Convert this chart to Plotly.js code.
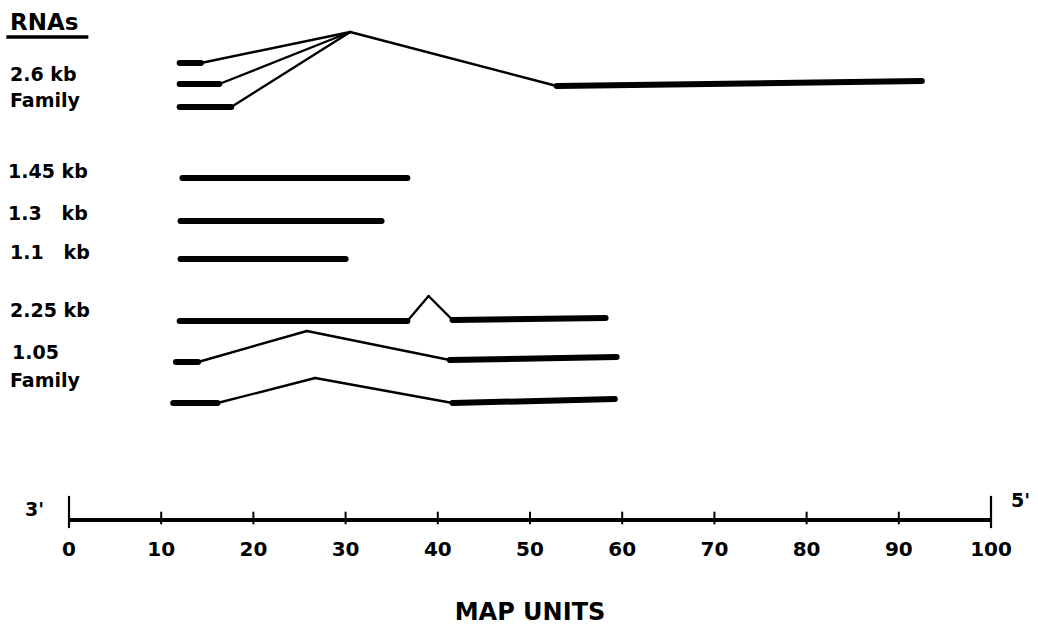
<!DOCTYPE html>
<html>
<head>
<meta charset="utf-8">
<script src="https://cdn.plot.ly/plotly-3.0.1.min.js"></script>
<style>
  html, body { margin: 0; padding: 0; background: #fff; }
  #chart { width: 1038px; height: 630px; }
  .js-line { stroke-linecap: round; stroke-linejoin: round; }
</style>
</head>
<body>
<div id="chart"></div>
<script>
// ---- Data (x in map units, y = row position from top) ----
// 2.6 kb family (three transcripts sharing the 5' exon)
const t26a_x = [12.0, 14.3, 30.5, 52.9, 92.5];
const t26a_y = [63, 63, 32, 86, 81];
const t26a_seg = ['exon', 'intron', 'intron', 'exon'];

const t26b_x = [12.0, 16.3, 30.5];
const t26b_y = [84, 84, 32];
const t26b_seg = ['exon', 'intron'];

const t26c_x = [12.0, 17.6, 30.5];
const t26c_y = [107, 107, 32];
const t26c_seg = ['exon', 'intron'];

// unspliced RNAs
const t145_x = [12.3, 36.7];
const t145_y = [178, 178];
const t145_seg = ['exon'];

const t13_x = [12.1, 33.9];
const t13_y = [221, 221];
const t13_seg = ['exon'];

const t11_x = [12.1, 30.0];
const t11_y = [259, 259];
const t11_seg = ['exon'];

// 2.25 kb
const t225_x = [12.0, 36.7, 39.0, 41.6, 58.2];
const t225_y = [321, 321, 296, 320, 318];
const t225_seg = ['exon', 'intron', 'intron', 'exon'];

// 1.05 family
const t105a_x = [11.6, 14.0, 25.8, 41.3, 59.4];
const t105a_y = [362, 362, 331, 360, 357];
const t105a_seg = ['exon', 'intron', 'intron', 'exon'];

const t105b_x = [11.3, 16.1, 26.7, 41.6, 59.2];
const t105b_y = [403, 403, 378, 403, 399];
const t105b_seg = ['exon', 'intron', 'intron', 'exon'];

// left-hand labels (x in map units, y = row position)
const labelText = ['2.6 kb', 'Family', '1.45 kb', '1.3\u00a0\u00a0\u00a0kb', '1.1\u00a0\u00a0\u00a0kb', '2.25 kb', '1.05', 'Family'];
const labelX = [-6.6, -6.6, -6.8, -6.8, -6.6, -6.6, -6.4, -6.6];
const labelY = [74, 100, 171, 213, 252, 310, 352, 380];

// map-unit scale
const tickVals = [0, 10, 20, 30, 40, 50, 60, 70, 80, 90, 100];
const tickText = ['0', '10', '20', '30', '40', '50', '60', '70', '80', '90', '100'];
const minorTickVals = [10, 20, 30, 40, 50, 60, 70, 80, 90];
const endTickVals = [0, 100];

// ---- Build traces ----
const AXIS_ROW = 518;
const X_MAX = 100;
const FONT = 'DejaVu Sans';
// helpers to place text outside the plotting area (paper coordinates)
const px = u => u / X_MAX;
const py = r => (AXIS_ROW - r) / AXIS_ROW;

const transcripts = [
  [t26a_x, t26a_y, t26a_seg], [t26b_x, t26b_y, t26b_seg], [t26c_x, t26c_y, t26c_seg],
  [t145_x, t145_y, t145_seg], [t13_x, t13_y, t13_seg], [t11_x, t11_y, t11_seg],
  [t225_x, t225_y, t225_seg], [t105a_x, t105a_y, t105a_seg], [t105b_x, t105b_y, t105b_seg]
];

const exonX = [], exonY = [], intronX = [], intronY = [];
transcripts.forEach(([xs, ys, segs]) => {
  segs.forEach((kind, i) => {
    const tx = kind === 'exon' ? exonX : intronX;
    const ty = kind === 'exon' ? exonY : intronY;
    tx.push(xs[i], xs[i + 1], null);
    ty.push(ys[i], ys[i + 1], null);
  });
});

const traces = [
  { type: 'scatter', mode: 'lines', x: intronX, y: intronY, connectgaps: false,
    line: { color: '#000', width: 2.4 }, hoverinfo: 'skip', cliponaxis: false },
  { type: 'scatter', mode: 'lines', x: exonX, y: exonY, connectgaps: false,
    line: { color: '#000', width: 6 }, hoverinfo: 'skip', cliponaxis: false },
  { type: 'scatter', mode: 'markers', x: minorTickVals, y: minorTickVals.map(() => AXIS_ROW),
    marker: { symbol: 'line-ns', size: 9, line: { color: '#000', width: 2 } },
    hoverinfo: 'skip', cliponaxis: false },
  { type: 'scatter', mode: 'markers', x: endTickVals, y: endTickVals.map(() => AXIS_ROW - 6),
    marker: { symbol: 'line-ns', size: 23, line: { color: '#000', width: 2.2 } },
    hoverinfo: 'skip', cliponaxis: false }
];

const annotations = labelText.map((t, i) => ({
  x: px(labelX[i]), y: py(labelY[i]), xref: 'paper', yref: 'paper', text: t, showarrow: false,
  xanchor: 'left', yanchor: 'middle',
  font: { family: FONT, size: 19, color: '#000', weight: 'bold' }
}));
annotations.push({
  x: px(-6.6), y: py(22), xref: 'paper', yref: 'paper', text: 'RNAs', showarrow: false,
  xanchor: 'left', yanchor: 'middle',
  font: { family: FONT, size: 23, color: '#000', weight: 'bold' }
});
annotations.push({
  x: px(-3.7), y: py(509), xref: 'paper', yref: 'paper', text: "3'", showarrow: false,
  xanchor: 'center', yanchor: 'middle',
  font: { family: FONT, size: 19, color: '#000', weight: 'bold' }
});
annotations.push({
  x: px(103.2), y: py(500), xref: 'paper', yref: 'paper', text: "5'", showarrow: false,
  xanchor: 'center', yanchor: 'middle',
  font: { family: FONT, size: 19, color: '#000', weight: 'bold' }
});

const layout = {
  width: 1038, height: 630,
  margin: { l: 69, r: 47, t: 0, b: 112, pad: 0 },
  paper_bgcolor: '#fff', plot_bgcolor: '#fff',
  showlegend: false, hovermode: false,
  xaxis: {
    range: [0, X_MAX], autorange: false, fixedrange: true,
    showgrid: false, zeroline: false,
    showline: true, linecolor: '#000', linewidth: 3.5,
    tickmode: 'array', tickvals: tickVals, ticktext: tickText,
    ticks: '', ticklabelstandoff: 10,
    tickfont: { family: FONT, size: 20, color: '#000', weight: 'bold' },
    title: { text: 'MAP UNITS', standoff: 44,
      font: { family: FONT, size: 24, color: '#000', weight: 'bold' } }
  },
  yaxis: {
    range: [AXIS_ROW, 0], autorange: false, visible: false, fixedrange: true
  },
  shapes: [
    { type: 'line', xref: 'paper', yref: 'paper', x0: px(-6.8), x1: px(2.1), y0: py(37), y1: py(37),
      line: { color: '#000', width: 3.5 } }
  ],
  annotations: annotations
};

Plotly.newPlot('chart', traces, layout, { displayModeBar: false, staticPlot: true });
</script>
</body>
</html>
